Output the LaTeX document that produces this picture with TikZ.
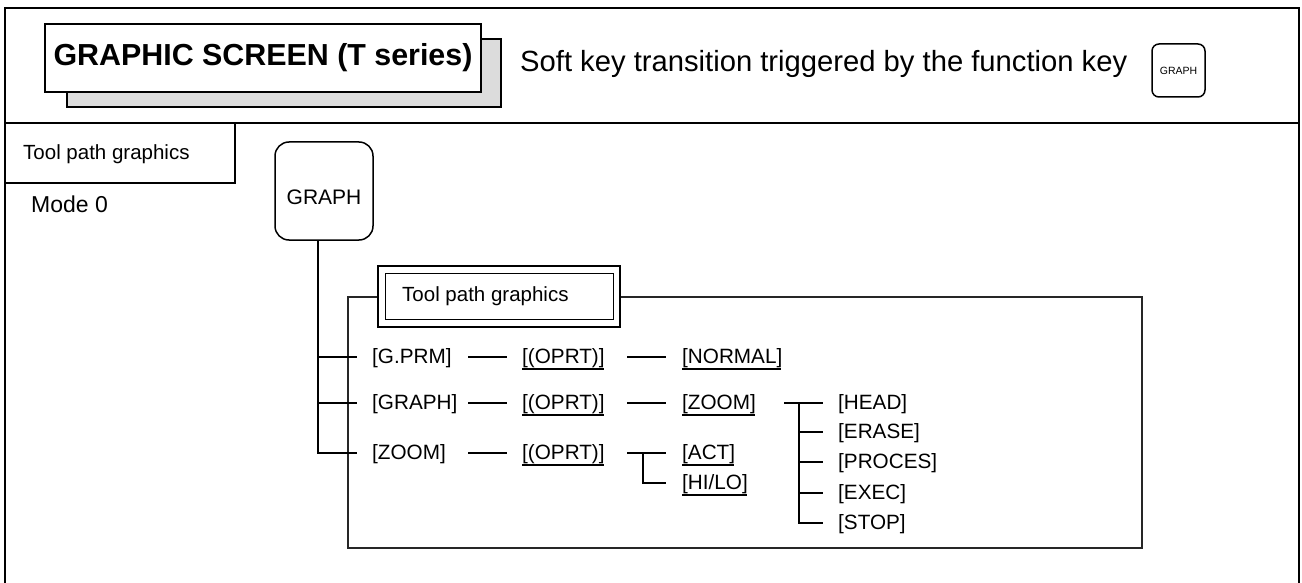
\documentclass[tikz,border=0pt]{standalone}
\usepackage{fontspec}
\setmainfont{Liberation Sans}
\newcommand\myfs[1]{\fontsize{#1pt}{#1pt}\selectfont}
\definecolor{shadowgray}{RGB}{220,220,220}
\begin{document}
\begin{tikzpicture}[x=1pt,y=-1pt,
  lbl/.style={inner sep=0pt,anchor=west,text height=17pt,text depth=4pt,font=\myfs{20.7}},
  conn/.style={line width=1.5pt,black},
  ulstyle/.style={line width=1.3pt,black},
  keybox/.style={draw,line width=1.5pt,rounded corners=14pt,inner sep=0pt,fill=white},
  plainbox/.style={draw,line width=1.2pt,inner sep=0pt}]
\useasboundingbox (0,0) rectangle (1302,583);
% outer frame and header
\draw[line width=2.5pt] (5,583) -- (5,8) -- (1299,8) -- (1299,583);
\draw[line width=1.8pt] (5,123) -- (1299,123);
\draw[line width=1.8pt] (5,183) -- (235,183) -- (235,123);
% title
\node[plainbox,fill=shadowgray,minimum width=434pt,minimum height=68pt] (tshadow) at (284,73) {};
\node[plainbox,fill=white,minimum width=436pt,minimum height=68pt,font=\myfs{30.4}\bfseries] (title) at (263,58) {GRAPHIC SCREEN (T series)};
\node[anchor=base west,inner sep=0pt,font=\myfs{29.2}] (subtitle) at (520,72) {Soft key transition triggered by the function key};
\node[keybox,rounded corners=7pt,minimum size=53pt,font=\myfs{10.5}] (skey) at (1178.5,70.5) {GRAPH};
% left tab
\node[lbl,font=\myfs{20.5}] (tabtxt) at (23,153) {Tool path graphics};
\node[lbl,font=\myfs{23}] (mode) at (31,206) {Mode 0};
% function key
\node[keybox,minimum size=98pt,font=\myfs{21},text height=27pt,text depth=0pt] (gkey) at (324,191) {GRAPH};
% group box
\node[draw,line width=1.3pt,black!85,minimum width=794pt,minimum height=251pt,inner sep=0pt] (grp) at (745,422.5) {};
\node[draw,line width=2pt,fill=white,minimum width=242pt,minimum height=61pt,inner sep=0pt] (dbo) at (499,296.5) {};
\node[draw,line width=1pt,minimum width=228pt,minimum height=46pt,inner sep=0pt] (dbi) at (499,296) {};
\node[lbl,font=\myfs{20.5}] (dbtxt) at (402,295) {Tool path graphics};
% menu items
\node[lbl] (c1a) at (372,357) {[G.PRM]};
\node[lbl] (c1b) at (372,403) {[GRAPH]};
\node[lbl] (c1c) at (372,453) {[ZOOM]};
\node[lbl] (c2a) at (522,357) {[(OPRT)]};
\node[lbl] (c2b) at (522,403) {[(OPRT)]};
\node[lbl] (c2c) at (522,453) {[(OPRT)]};
\node[lbl] (c3a) at (682,357) {[NORMAL]};
\node[lbl] (c3b) at (682,403) {[ZOOM]};
\node[lbl] (c3c) at (682,453) {[ACT]};
\node[lbl] (c3d) at (682,483) {[HI/LO]};
\node[lbl] (c4a) at (838,403) {[HEAD]};
\node[lbl] (c4b) at (838,432) {[ERASE]};
\node[lbl] (c4c) at (838,462) {[PROCES]};
\node[lbl] (c4d) at (838,493) {[EXEC]};
\node[lbl] (c4e) at (838,523) {[STOP]};
% underlines
\foreach \n in {c2a,c2b,c2c,c3a,c3b,c3c,c3d}
  \draw[ulstyle] ([yshift=-5.5pt]\n.base west) -- ([yshift=-5.5pt,xshift=-1pt]\n.base east);
% trunk from the function key
\coordinate (tr) at ([xshift=-6pt]gkey.south);
\draw[conn] (tr) |- ([xshift=-15pt]c1c.west);
\draw[conn] (tr |- c1a.west) -- ([xshift=-15pt]c1a.west);
\draw[conn] (tr |- c1b.west) -- ([xshift=-15pt]c1b.west);
% column 1 to 2
\foreach \n in {c2a,c2b,c2c}
  \draw[conn] ([xshift=-54pt]\n.west) -- ([xshift=-15pt]\n.west);
% column 2 to 3
\foreach \n in {c3a,c3b,c3c}
  \draw[conn] ([xshift=-55pt]\n.west) -- ([xshift=-16pt]\n.west);
\draw[conn] ([xshift=-39pt]c3c.west) |- ([xshift=-16pt]c3d.west);
% column 3 to 4
\draw[conn] ([xshift=-54pt]c4a.west) -- ([xshift=-15pt]c4a.west);
\draw[conn] ([xshift=-39pt]c4a.west) |- ([xshift=-15pt]c4e.west);
\foreach \n in {c4b,c4c,c4d}
  \draw[conn] ([xshift=-39pt]\n.west) -- ([xshift=-15pt]\n.west);
\end{tikzpicture}
\end{document}
